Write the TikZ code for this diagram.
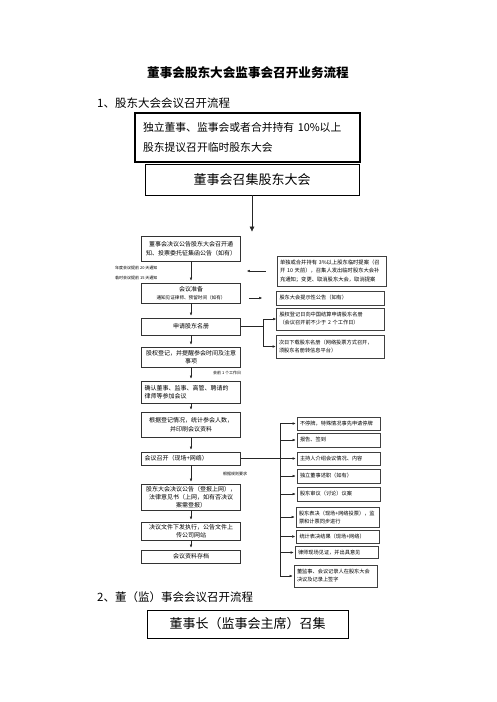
\documentclass[tikz,border=0pt]{standalone}
\usepackage{fontspec}
\setmainfont{Noto Sans CJK SC}
\usetikzlibrary{positioning,arrows.meta}

\tikzset{
  headbox/.style={draw, line width=1.2pt, inner sep=0pt},
  stepbox/.style={draw=black!80, line width=0.6pt, minimum width=99pt, text width=93pt,
    inner xsep=3pt, inner ysep=1.5pt, align=center, font=\fontsize{6}{8.5}\selectfont},
  infobox/.style={draw=black!75, line width=0.6pt, inner xsep=3pt, inner ysep=1.5pt,
    align=left, font=\fontsize{5.2}{8}\selectfont},
  sidebox/.style={infobox, minimum width=108pt, text width=102pt},
  branchbox/.style={infobox, minimum width=83pt, text width=77pt},
  note/.style={font=\fontsize{4}{6}\selectfont, inner sep=0pt, anchor=west},
  link/.style={-{Latex[length=3pt,width=2.6pt]}, line width=0.5pt, black!85},
  wire/.style={line width=0.5pt, black!85}
}

\begin{document}
\begin{tikzpicture}[x=1pt, y=-1pt]
    \useasboundingbox (0,0) rectangle (496,702);

    \node[font=\fontsize{12.6}{15}\selectfont\bfseries] (title) at (248,73) {董事会股东大会监事会召开业务流程};
    \node[anchor=west, inner sep=0pt, font=\fontsize{11.5}{14}\selectfont] (sec1) at (97,103) {1、股东大会会议召开流程};

    \node[headbox, minimum width=225pt, minimum height=49pt, text width=209pt, inner xsep=8pt,
      align=left, font=\fontsize{10.8}{20}\selectfont] (propose) at (247.5,137.5)
      {独立董事、监事会或者合并持有 10\%以上\\股东提议召开临时股东大会};
    \node[headbox, line width=0.8pt, minimum width=214pt, minimum height=31pt,
      font=\fontsize{13}{15}\selectfont] (convene) at (252,179.5) {董事会召集股东大会};

    \node[stepbox, minimum height=25pt] (notice) at (191,248.5) {董事会决议公告股东大会召开通\\知、投票委托征集函公告（如有）};
    \node[stepbox, minimum height=20pt] (prepare) at (191,293) {会议准备\\{\fontsize{4.6}{6}\selectfont 通知见证律师、预留时间（如有）}};
    \node[stepbox, minimum height=17pt] (register) at (191,326.5) {申请股东名册};
    \node[stepbox, minimum height=20pt] (remind) at (191,357) {股权登记，并提醒参会时间及注意\\事项};
    \node[stepbox, minimum height=22pt, align=left] (attend) at (191,392) {确认董事、监事、高管、聘请的\\律师等参加会议};
    \node[stepbox, minimum height=25pt] (materials) at (191,424.5) {根据登记情况，统计参会人数，\\并印刷会议资料};
    \node[stepbox, minimum height=13pt, align=left] (meeting) at (191,458.5) {会议召开（现场+网络）};
    \node[stepbox, minimum height=26pt, font=\fontsize{6}{8}\selectfont] (resolution) at (191,497) {股东大会决议公告（登报上网），\\法律意见书（上网，如有否决议\\案需登报）};
    \node[stepbox, minimum height=18pt] (execute) at (191,531) {决议文件下发执行，公告文件上\\传公司网站};
    \node[stepbox, minimum height=13pt] (archive) at (191,556.5) {会议资料存档};

    \node[note] (lead1) at (115,268) {年度会议提前 20 天通知};
    \node[note] (lead2) at (115,278) {临时会议提前 15 天通知};
    \node[note] (lead3) at (213,373) {会前 1 个工作日};
    \node[note] (lead4) at (223,474) {根据规则要求};

    \node[sidebox, minimum width=109pt, text width=103pt, minimum height=30pt,
      font=\fontsize{5.3}{8.5}\selectfont] (proposal) at (331.5,271)
      {单独或合并持有~3\%以上股东临时提案（召\\开~10~天前），召集人发出临时股东大会补\\充通知；变更、取消股东大会，取消提案};
    \node[sidebox, minimum height=14pt] (hint) at (330.5,298) {股东大会提示性公告（如有）};
    \node[sidebox, minimum height=22pt] (ledger) at (330.5,319) {股权登记日向中国结算申请股东名册\\（会议召开前不少于~2~个工作日）};
    \node[sidebox, minimum height=23pt] (download) at (330,346.5) {次日下载股东名册（网络投票方式召开，\\须股东名册转信息平台）};

    \node[branchbox, minimum height=13pt] (agenda1) at (338.5,423.5) {不停牌，特殊情况事先申请停牌};
    \node[branchbox, minimum height=14pt] (agenda2) at (338.5,440) {报告、签到};
    \node[branchbox, minimum height=13pt] (agenda3) at (338.5,458.5) {主持人介绍会议情况、内容};
    \node[branchbox, minimum height=14pt] (agenda4) at (338.5,476) {独立董事述职（如有）};
    \node[branchbox, minimum height=14pt] (agenda5) at (338.5,494) {股东审议（讨论）议案};
    \node[branchbox, minimum height=20pt] (agenda6) at (337.5,517) {股东表决（现场+网络投票），监\\票和计票同步进行};
    \node[branchbox, minimum height=13pt] (agenda7) at (338,536.5) {统计表决结果（现场+网络）};
    \node[branchbox, minimum height=12pt] (agenda8) at (336.5,552.5) {律师现场见证，并出具意见};
    \node[branchbox, minimum height=22pt] (agenda9) at (335.5,576) {董监事、会议记录人在股东大会\\决议及记录上签字};

    \draw[wire, -{Latex[length=5pt,width=5pt]}, shorten >=4pt] (convene.south) -- (convene.south |- notice.north);

    \foreach \a/\b in {notice/prepare, prepare/register, register/remind, remind/attend,
      attend/materials, materials/meeting, meeting/resolution, resolution/execute, execute/archive}
      \draw[link, shorten >=2pt] (\a) -- (\b);

    \draw[link, shorten <=11pt, shorten >=6pt] (proposal.west) -- (proposal.west -| notice.east);
    \draw[link, shorten <=8pt, shorten >=14pt] (hint.west -| prepare.east) -- (hint.west);

    \draw[wire] (register.east) -- ++(22.5,0) coordinate (fork);
    \draw[link] (fork) |- (ledger.west);
    \draw[link] (fork) |- (download.west);

    \draw[wire] (meeting.east) -- ++(39.5,0) coordinate (spine);
    \draw[wire] (spine |- agenda1.west) -- (spine |- agenda9.west);
    \foreach \i in {1,...,9}
      \draw[link, shorten >=1pt] (spine |- agenda\i.west) -- (agenda\i.west);

    \node[anchor=west, inner sep=0pt, font=\fontsize{11.5}{14}\selectfont] (sec2) at (97,597) {2、董（监）事会会议召开流程};
    \node[headbox, line width=1pt, minimum width=201pt, minimum height=28pt,
      font=\fontsize{13}{15}\selectfont] (chair) at (247.5,624) {董事长（监事会主席）召集};

\end{tikzpicture}
\end{document}
